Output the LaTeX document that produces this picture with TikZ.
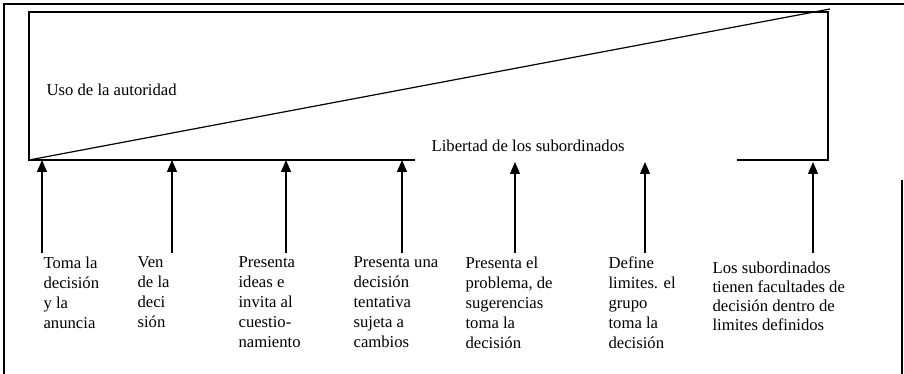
\documentclass[tikz,border=0pt]{standalone}
\usepackage{fontspec}
\setmainfont{Liberation Serif}
\usepackage{tikz}
\usetikzlibrary{calc}
\usetikzlibrary{arrows.meta}

\tikzset{
  lbl/.style={anchor=north west, inner sep=0pt, align=left, font=\fontsize{12.5}{15}\selectfont},
  up/.style={-{Triangle[width=7.5pt,length=9pt]}, line width=0.9pt}
}

\begin{document}
\begin{tikzpicture}[x=0.75pt, y=-0.75pt, line width=0.9pt]
\useasboundingbox (0,0) rectangle (904,374);

% marco exterior
\coordinate (FA) at (4,374); \coordinate (FB) at (4,4); \coordinate (FC) at (904,4);
\coordinate (FD) at (902,180); \coordinate (FE) at (902,374);
\draw (FA) -- (FB) -- (FC); \draw (FD) -- (FE);

% rectangulo y diagonal
\coordinate (A) at (29,160); \coordinate (B) at (29,12);
\coordinate (C) at (828,12); \coordinate (D) at (828,160);
\coordinate (G1) at (415,160); \coordinate (G2) at (737,160);
\coordinate (E) at (830,9);
\draw (G1) -- (A) -- (B) -- (C) -- (D) -- (G2);
\draw (A) -- (E);
\node (uso) [lbl, anchor=west] at (46,90) {Uso de la autoridad};
\node (lib) [lbl, anchor=west] at (431,146) {Libertad de los subordinados};

% flechas
\coordinate (P1) at (42,160);  \coordinate (Q1) at (42,253);
\coordinate (P2) at (172,160); \coordinate (Q2) at (172,253);
\coordinate (P3) at (286,160); \coordinate (Q3) at (286,253);
\coordinate (P4) at (402,160); \coordinate (Q4) at (402,253);
\coordinate (P5) at (515,162); \coordinate (Q5) at (515,253);
\coordinate (P6) at (645,162); \coordinate (Q6) at (645,253);
\coordinate (P7) at (813,162); \coordinate (Q7) at (813,253);
\foreach \i in {1,...,7}
  \draw [up] (Q\i) -- (P\i);

% textos de abajo
\node (t1) [lbl] at (43,256) {Toma la\\decisión\\y la\\anuncia};
\node (t2) [lbl] at (137,256) {Ven\\de la\\deci\\sión};
\node (t3) [lbl] at (238,256) {Presenta\\ideas e\\invita al\\cuestio-\\namiento};
\node (t4) [lbl] at (353,256) {Presenta una\\decisión\\tentativa\\sujeta a\\cambios};
\node (t5) [lbl] at (465,256) {Presenta el\\problema, de\\sugerencias\\toma la\\decisión};
\node (t6) [lbl] at (608,256) {Define\\limites. el\\grupo\\toma la\\decisión};
\node (t7) [lbl, font=\fontsize{12.5}{14.3}\selectfont] at (712,261) {Los subordinados\\tienen facultades de\\decisión dentro de\\limites definidos};

\end{tikzpicture}
\end{document}
